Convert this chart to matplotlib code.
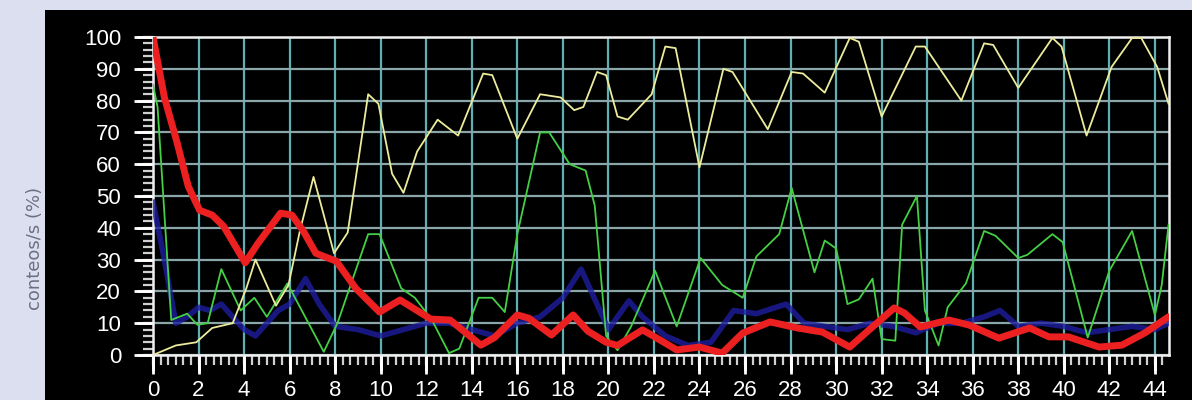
import matplotlib
matplotlib.use("Agg")
import matplotlib.pyplot as plt
import numpy as np

# yellow trace
yellow_x = [0, 1.0, 1.9, 2.6, 3.5, 4.1, 4.5, 5.4, 5.95, 6.45, 7.05, 7.95, 8.55, 9.45,
            9.9, 10.5, 11.0, 11.6, 12.5, 13.4, 14.5, 14.9, 16.0, 17.0, 17.9, 18.5,
            18.9, 19.5, 19.9, 20.4, 20.85, 21.9, 22.5, 22.95, 24.0, 25.05, 25.45,
            27.0, 28.05, 28.55, 29.5, 30.6, 31.0, 32.0, 33.5, 33.9, 35.5, 36.5,
            36.9, 38.0, 39.5, 39.9, 41.0, 42.1, 43.0, 43.4, 44.1, 44.6]
yellow_y = [0, 3, 4, 8.5, 10, 21, 30, 15.5, 22, 39, 56, 32, 38.5, 82,
            79, 57, 51, 64, 74, 69, 88.5, 88, 68, 82, 81, 77,
            78, 89, 88, 75, 74, 82, 97, 96.5, 59, 90, 89,
            71, 89, 88.5, 82.5, 99.7, 98.5, 75, 97, 97, 80, 98,
            97.5, 84, 99.7, 97, 69, 90.6, 99.7, 99.7, 90.6, 79]

# green trace
green_x = [0, 0.2, 0.8, 1.5, 1.95, 2.4, 3.0, 3.85, 4.45, 5.0, 5.9, 7.5, 8.1, 9.45,
           9.95, 10.9, 11.5, 12.25, 13.0, 13.45, 14.3, 14.9, 15.45, 16.0, 17.0,
           17.4, 18.3, 19.0, 19.4, 19.9, 20.4, 21.0, 22.05, 23.0, 24.05, 25.0,
           25.9, 26.5, 27.5, 28.05, 29.05, 29.5, 30.0, 30.5, 31.0, 31.6, 32.0,
           32.6, 32.9, 33.55, 33.9, 34.5, 34.9, 35.7, 36.5, 37.0, 38.0, 38.4,
           39.5, 39.95, 41.05, 42.0, 43.0, 44.0, 44.3, 44.6]
green_y = [85, 78, 11, 13, 9.5, 10, 27, 14, 18, 12, 22.5, 1, 10, 38,
           38, 21, 18, 11, 0.6, 2, 18, 18, 13.5, 38, 70,
           70, 60, 58, 47, 6, 1.5, 9, 26.5, 9, 30.5, 22,
           18, 31, 38, 52.5, 26, 36, 33.5, 16, 17.5, 24, 5,
           4.5, 41, 50, 14, 3, 15, 22.5, 39, 37.5, 30.5, 31.5,
           38, 35.5, 5.5, 26.5, 39, 12.6, 22, 41]

# blue trace
blue_x = [0, 0.5, 1.0, 1.5, 2.0, 2.5, 3.0, 3.5, 4.0, 4.5, 5.0, 5.5, 6.0, 6.7, 7.3,
          8.0, 9.0, 10.0, 11.0, 12.0, 13.0, 14.0, 15.0, 16.0, 17.0, 18.0, 18.8,
          19.5, 20.0, 20.9, 21.5, 22.5, 23.5, 24.5, 25.5, 26.5, 27.8, 28.6, 29.5,
          30.5, 31.5, 32.5, 33.5, 34.5, 35.5, 36.5, 37.2, 38.0, 39.0, 40.0, 41.0,
          42.0, 43.0, 44.0, 44.6]
blue_y = [48, 30, 10, 12, 15, 14, 16, 12, 8, 6, 10, 14, 16, 24, 16,
          9, 8, 6, 8, 10, 10, 8, 6, 10, 12, 18, 27,
          16, 8, 17, 12, 6, 3, 4, 14, 13, 16, 10, 9,
          8, 10, 9, 7, 10, 10, 12, 14, 9, 10, 9, 7,
          8, 9, 8, 10]

# red trace (thick)
red_x = [0, 0.5, 1.05, 1.55, 2.05, 2.6, 3.1, 4.05, 4.6, 5.6, 6.1, 6.6, 7.15, 8.05,
         8.9, 9.95, 10.85, 12.2, 13.05, 14.4, 15.0, 16.0, 16.5, 17.5, 18.45, 19.1,
         19.9, 20.4, 21.5, 22.2, 23.0, 24.0, 25.0, 25.9, 27.1, 28.3, 29.4, 30.6,
         31.45, 32.55, 33.0, 33.7, 34.95, 35.85, 37.15, 38.5, 39.35, 40.2, 41.55,
         42.55, 43.55, 44.6]
red_y = [100, 81, 67, 53, 45.5, 44, 40.5, 29, 35, 44.6, 44, 39, 32, 29.5,
         21, 13.5, 17.3, 11.3, 11, 3.1, 5.5, 12.6, 11.6, 6.3, 12.6, 7.5,
         4, 3, 7.9, 5, 1.6, 2.5, 0.6, 6.9, 10.4, 8.5, 7.2, 2.5,
         7.9, 14.8, 13.2, 8.8, 11, 9.4, 5.3, 8.5, 5.7, 5.7, 2.5,
         3.1, 6.9, 12]

x_ticks = list(range(0, 45, 2))
y_ticks = list(range(0, 101, 10))
x_max = 44.62

W, H = 1192, 400
fig = plt.figure(figsize=(W / 100, H / 100), dpi=100, facecolor='#dcdff0')

# black instrument panel as a bare background axes
panel = fig.add_axes([45 / W, 0, 1 - 45 / W, 390 / H], zorder=-1)
panel.set_facecolor('black')
panel.set_xticks([])
panel.set_yticks([])
for s in panel.spines.values():
    s.set_visible(False)

ax_w, ax_h = 1169 - 153, 355 - 37
ax = fig.add_axes([153 / W, 45 / H, ax_w / W, ax_h / H])
ax.set_facecolor('black')

# lines above the grid (axis zorder 2.5)
ax.plot(blue_x, blue_y, color='#1e1ea0', lw=4, alpha=0.8, zorder=3)
ax.plot(green_x, green_y, color='#44d044', lw=1.3, zorder=3.1)
ax.plot(yellow_x, yellow_y, color='#ecec9c', lw=1.3, zorder=3.2)
ax.plot(red_x, red_y, color='#ec2020', lw=5, solid_joinstyle='round',
        solid_capstyle='round', zorder=3.3)

ax.set_xlim(0, x_max)
ax.set_ylim(0, 100)
ax.set_xticks(x_ticks)
ax.set_yticks(y_ticks)

# labels and grid from the axis; the tick comb is drawn by hand below
ax.xaxis.set_tick_params(which='major', color='white', labelcolor='white',
                         length=14, width=2, pad=4, labelsize=16,
                         labelfontfamily='Liberation Sans',
                         gridOn=True, grid_color='#5fb0b4', grid_linewidth=1.6)
ax.yaxis.set_tick_params(which='major', color='white', labelcolor='white',
                         length=14, width=2, pad=9, labelsize=16,
                         labelfontfamily='Liberation Sans',
                         gridOn=True, grid_color='#8aa6a8', grid_linewidth=1.6)

# tick comb outside the axes
x_minor = np.arange(0, x_max, 1 / 3)
y_minor = np.arange(0, 101, 2)
xt = ax.get_xaxis_transform()
yt = ax.get_yaxis_transform()
ax.vlines(x_minor, -10 / ax_h, 0, transform=xt, colors='#d0d0d0', lw=1.6, clip_on=False)
ax.vlines(x_ticks, -16 / ax_h, 0, transform=xt, colors='white', lw=2, clip_on=False)
ax.hlines(y_minor, -10 / ax_w, 0, transform=yt, colors='#d0d0d0', lw=1.6, clip_on=False)
ax.hlines(y_ticks, -16 / ax_w, 0, transform=yt, colors='white', lw=2, clip_on=False)

for side in ['top', 'right', 'bottom', 'left']:
    ax.spines[side].set_color('#f0f0f0')
    ax.spines[side].set_linewidth(1.8)

fig.text(35 / W, 1 - 248 / H, 'conteos/s (%)', rotation=90, color='#6e7080',
         fontsize=13, ha='center', va='center')

fig.savefig('out.png', dpi=100, facecolor=fig.get_facecolor())
